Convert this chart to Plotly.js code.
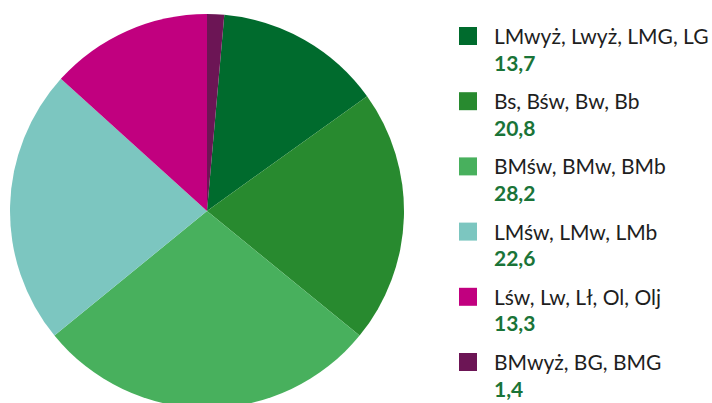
<!DOCTYPE html>
<html><head><meta charset="utf-8">
<script src="https://cdn.plot.ly/plotly-3.0.1.min.js"></script>
<style>html,body{margin:0;padding:0;overflow:hidden;background:#fff}</style>
</head><body><div id="chart"></div>
<script>
const categories = ["LMwyż, Lwyż, LMG, LG", "Bs, Bśw, Bw, Bb", "BMśw, BMw, BMb", "LMśw, LMw, LMb", "Lśw, Lw, Lł, Ol, Olj", "BMwyż, BG, BMG"];
const values = [13.7, 20.8, 28.2, 22.6, 13.3, 1.4];
const valueLabels = ["13,7", "20,8", "28,2", "22,6", "13,3", "1,4"];
const colors = ["#006b2d", "#288a2f", "#48b05d", "#7cc6c0", "#c1007f", "#6c1555"];

const W = 712, H = 420;
const px = x => x / W;
const py = y => 1 - y / H;
const total = values.reduce((a, b) => a + b, 0);

const trace = {
  type: 'pie', labels: categories, values: values, sort: false, direction: 'clockwise',
  rotation: 360 * values[values.length - 1] / total,
  marker: {colors: colors, line: {width: 0}},
  textinfo: 'none', hoverinfo: 'label+value', showlegend: false,
  domain: {x: [px(10), px(404)], y: [py(408), py(14)]}
};

const shapes = [], annotations = [];
categories.forEach((c, i) => {
  const top = 27 + i * 65.2;
  shapes.push({type: 'rect', xref: 'paper', yref: 'paper', x0: px(459), x1: px(477), y0: py(top), y1: py(top + 18), fillcolor: colors[i], line: {width: 0}});
  annotations.push({xref: 'paper', yref: 'paper', x: px(492), y: py(top + 8.5), xanchor: 'left', yanchor: 'middle', showarrow: false, text: c, font: {family: 'Lato', size: 21, color: '#1e1e1e'}});
  annotations.push({xref: 'paper', yref: 'paper', x: px(492), y: py(top + 35), xanchor: 'left', yanchor: 'middle', showarrow: false, text: '<b>' + valueLabels[i] + '</b>', font: {family: 'Lato', size: 21, color: '#1a7438'}});
});

Plotly.newPlot('chart', [trace], {
  width: W, height: H, margin: {l: 0, r: 0, t: 0, b: 0},
  paper_bgcolor: '#fff', showlegend: false, shapes: shapes, annotations: annotations
}, {displayModeBar: false, staticPlot: true});
</script></body></html>
